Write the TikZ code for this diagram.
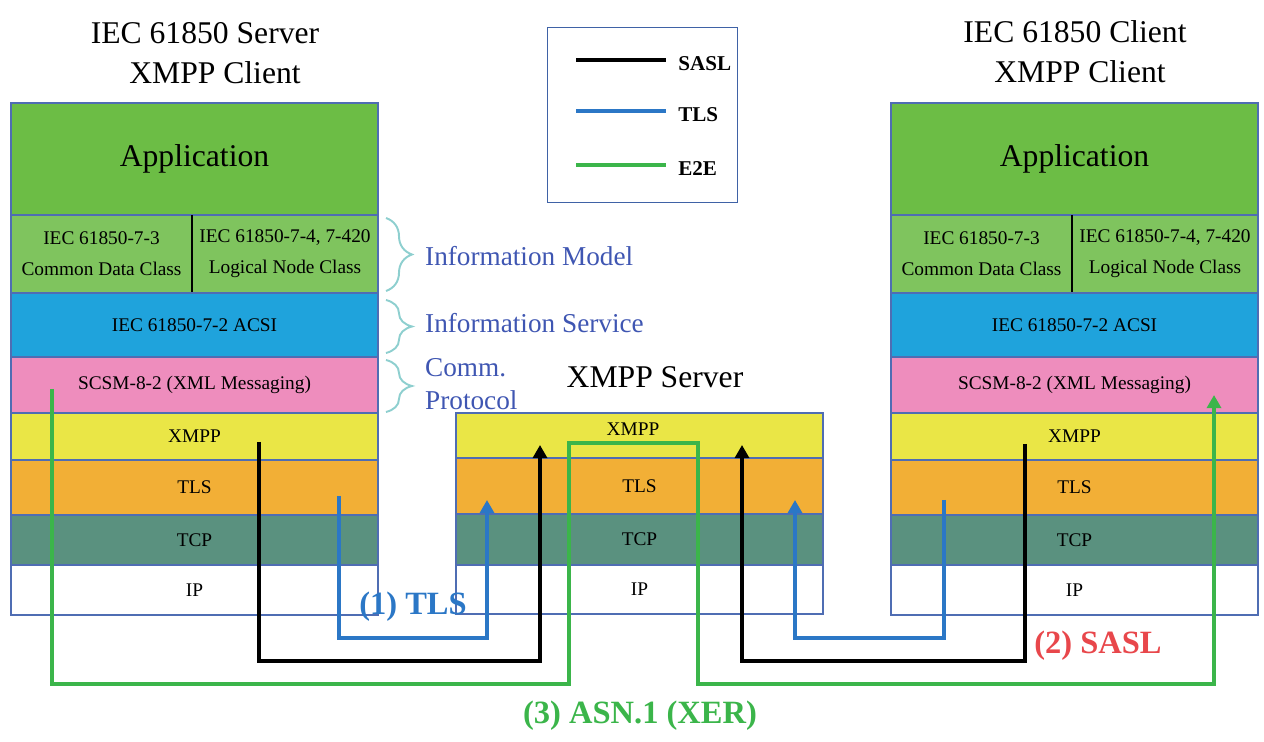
\documentclass[tikz,border=0pt]{standalone}
\usepackage{fontspec}
\setmainfont{Liberation Serif}
\usetikzlibrary{arrows.meta, decorations.pathreplacing, calc}
\definecolor{appgreen}{HTML}{6CBD45}
\definecolor{modelgreen}{HTML}{7FC45E}
\definecolor{acsiblue}{HTML}{1FA3DC}
\definecolor{scsmpink}{HTML}{EE8DBD}
\definecolor{xmppyellow}{HTML}{EAE646}
\definecolor{tlsorange}{HTML}{F2AF36}
\definecolor{tcpteal}{HTML}{5A917F}
\definecolor{layerline}{HTML}{4F6DB3}
\definecolor{legendline}{HTML}{3F62A6}
\definecolor{bracecyan}{HTML}{8ECFCF}
\definecolor{sidetext}{HTML}{3F56B2}
\definecolor{tlslink}{HTML}{2B77C6}
\definecolor{etelink}{HTML}{3BB54A}
\definecolor{saslred}{HTML}{E8474B}

\begin{document}
\begin{tikzpicture}[
    x=0.02cm, y=-0.02cm,
    >={Triangle[length=7.5pt,width=8pt]},
    every node/.style={align=center},
    layer/.style={draw=layerline, line width=0.6pt, inner sep=0pt, outer sep=0pt, anchor=north west, font=\fontsize{11}{17.5}\selectfont},
    titlestyle/.style={font=\fontsize{18}{22.7}\selectfont},
    sidestyle/.style={text=sidetext, font=\fontsize{15.5}{19}\selectfont, anchor=west, align=left},
    bracestyle/.style={draw=bracecyan, line width=1.1pt, decorate, decoration={brace, amplitude=0.52cm}},
    link/.style={line width=2.4pt},
    linklabel/.style={font=\bfseries\fontsize{18.5}{22}\selectfont},
    keylabel/.style={font=\bfseries\fontsize{12}{14}\selectfont, anchor=west},
]
\useasboundingbox (0,0) rectangle (1264,742);

% ================= END STACKS (server left, client right) =================
\foreach \pre/\x in {l/11, r/891} {
    \node[layer, fill=appgreen, minimum width=367*0.02cm, minimum height=112*0.02cm, font=\fontsize{18}{22}\selectfont] (\pre app) at (\x,103) {Application};
    \node[layer, fill=modelgreen, minimum width=181*0.02cm, minimum height=78*0.02cm] (\pre cdc) at (\x,215) {IEC 61850-7-3\\Common Data Class};
    \node[layer, fill=modelgreen, minimum width=186*0.02cm, minimum height=78*0.02cm] (\pre lnc) at (\x+181,215) {IEC 61850-7-4, 7-420\\Logical Node Class};
    \draw[line width=1.4pt] (\pre cdc.north east) -- (\pre cdc.south east);
    \foreach \nm/\top/\bot/\col/\txt in {acsi/293/357/acsiblue/{IEC 61850-7-2 ACSI}, scsm/357/413/scsmpink/{SCSM-8-2 (XML Messaging)}, xmpp/413/460/xmppyellow/XMPP, tls/460/515/tlsorange/TLS, tcp/515/565/tcpteal/TCP, ip/565/615/white/IP} {
        \node[layer, fill=\col, minimum width=367*0.02cm, minimum height={(\bot-\top)*0.02cm}] (\pre\nm) at (\x,\top) {\txt};
    }
}
\node[titlestyle] (srvtitle) at (205,53) {IEC 61850 Server\\\hspace*{0.4cm}XMPP Client};
\node[titlestyle] (clititle) at (1075,52) {IEC 61850 Client\\\hspace*{0.2cm}XMPP Client};

% ================= MIDDLE STACK: XMPP server =================
\foreach \nm/\top/\bot/\col/\txt in {tls/458/514/tlsorange/TLS, tcp/514/565/tcpteal/TCP, ip/565/614/white/IP} {
    \node[layer, fill=\col, minimum width=367*0.02cm, minimum height={(\bot-\top)*0.02cm}] (m\nm) at (456,\top) {\txt};
}
\node[layer, fill=xmppyellow, minimum width=367*0.02cm, minimum height=45*0.02cm] (mxmpp) at (456,413) {};
\node[font=\fontsize{11}{13}\selectfont, inner sep=0pt] (mxmpptext) at (633,429) {XMPP};
\node[titlestyle] (xsrvtitle) at (655,377) {XMPP Server};

% ================= BRACES =================
\draw[bracestyle] (386,218) -- (386,291);
\draw[bracestyle] (386,300) -- (386,353);
\draw[bracestyle] (386,360) -- (386,412);
\node[sidestyle] (infomodel) at (419,256) {Information Model};
\node[sidestyle] (infoserv) at (419,323) {Information Service};
\node[sidestyle, font=\fontsize{15.5}{18.8}\selectfont] (commproto) at (419,384) {Comm.\\Protocol};

% ================= LEGEND =================
\node[draw=legendline, line width=0.8pt, minimum width=190*0.02cm, minimum height=175*0.02cm, anchor=north west] (legend) at (547,27) {};
\foreach \y/\col/\txt in {60/black/SASL, 111/tlslink/TLS, 165/etelink/E2E} {
    \coordinate (key\txt a) at (576,\y);
    \coordinate (key\txt b) at (666,\y);
    \draw[line width=2pt, \col] (key\txt a) -- (key\txt b);
    \node[keylabel, inner sep=0pt] (key\txt) at (678,\y+4) {\txt};
}

% ================= CONNECTORS =================
\coordinate (lsasl) at (259,442);
\coordinate (msasll) at (540,445);
\coordinate (rsasl) at (1025,444);
\coordinate (msaslr) at (742,445);
\coordinate (ltls) at (339,496);
\coordinate (mtlsl) at (487,500);
\coordinate (rtls) at (944,500);
\coordinate (mtlsr) at (795,500);
\coordinate (le2e) at (52,389);
\coordinate (re2e) at (1214,395);

\draw[link, ->] (lsasl) |- (540,661) -- (msasll);
\draw[link, ->] (rsasl) |- (742,661) -- (msaslr);
\draw[link, tlslink, ->] (ltls) |- (487,638) -- (mtlsl);
\draw[link, tlslink, ->] (rtls) |- (795,638) -- (mtlsr);
\draw[link, etelink, ->] (le2e) |- (569,684) |- (698,443) |- (1214,684) -- (re2e);

\node[linklabel, text=tlslink] (tlslab) at (413,607) {(1) TLS};
\node[linklabel, text=saslred] (sasllab) at (1098,646) {(2) SASL};
\node[linklabel, text=etelink] (xerlab) at (640,716) {(3) ASN.1 (XER)};

\end{tikzpicture}
\end{document}
